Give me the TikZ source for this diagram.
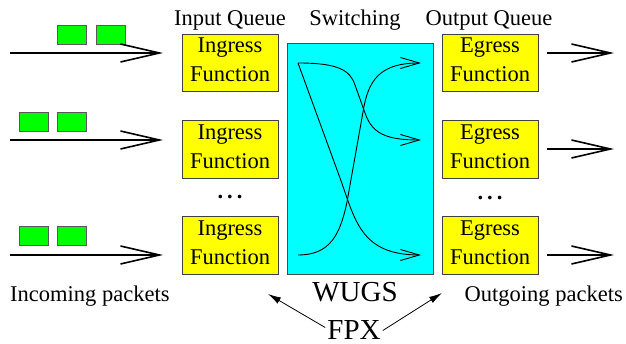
\documentclass[tikz,border=0pt]{standalone}
\usepackage{fontspec}
\setmainfont{Liberation Serif}
\usetikzlibrary{arrows.meta}
\definecolor{fabric}{RGB}{0,255,255}
\definecolor{fnfill}{RGB}{255,255,0}
\definecolor{pktfill}{RGB}{0,255,0}
\begin{document}
\begin{tikzpicture}[x=1pt,y=-1pt,
  fnbox/.style={draw=black!75, line width=0.8pt, fill=fnfill,
    minimum width=96pt, minimum height=57.5pt, inner sep=0pt,
    align=center, font=\rmfamily\fontsize{22.5}{29}\selectfont},
  packet/.style={draw=black!65, line width=0.7pt, fill=pktfill,
    minimum width=29pt, minimum height=19pt, inner sep=0pt},
  switchbox/.style={draw=black!70, line width=0.8pt, fill=fabric,
    minimum width=146pt, minimum height=231pt, inner sep=0pt},
  flow/.style={line width=1.6pt, -{Straight Barb[length=39pt,width=18pt]}},
  route/.style={line width=0.9pt, -{Straight Barb[length=19pt,width=11pt]}},
  pointer/.style={line width=0.8pt, -{Latex[length=13pt,width=7pt]}},
  lbl/.style={font=\rmfamily\fontsize{22.5}{27}\selectfont, anchor=base, inner sep=0pt},
  biglbl/.style={font=\rmfamily\fontsize{29}{34}\selectfont, anchor=base, inner sep=0pt},
]
\useasboundingbox (0,0) rectangle (626,344);

% column headings
\node[lbl] (iq)  at (230,26) {Input Queue};
\node[lbl] (swl) at (355,26) {Switching};
\node[lbl] (oq)  at (489,26) {Output Queue};

% switching fabric
\node[switchbox] (sw) at (360,158.5) {};

% ingress and egress functions
\node[fnbox] (ing1) at (230,63)    {Ingress\\Function\rule[-6pt]{0pt}{6pt}};
\node[fnbox] (ing2) at (230,149.5) {Ingress\\Function\rule[-6pt]{0pt}{6pt}};
\node[fnbox] (ing3) at (230,245.5) {Ingress\\Function\rule[-6pt]{0pt}{6pt}};
\node[fnbox] (eg1)  at (490,63)    {Egress\\Function\rule[-6pt]{0pt}{6pt}};
\node[fnbox] (eg2)  at (490,149.5) {Egress\\Function\rule[-6pt]{0pt}{6pt}};
\node[fnbox] (eg3)  at (490,245.5) {Egress\\Function\rule[-6pt]{0pt}{6pt}};

\node[lbl] (idots) at (230,199) {\textbf{.\kern4pt.\kern4pt.}};
\node[lbl] (edots) at (490,200) {\textbf{.\kern4pt.\kern4pt.}};

% packets waiting on the input links
\node[packet] (p11) at (72,34.5)  {};
\node[packet] (p12) at (110.5,34.5) {};
\node[packet] (p21) at (33.5,121.5) {};
\node[packet] (p22) at (72,121.5) {};
\node[packet] (p31) at (33.5,236) {};
\node[packet] (p32) at (71.5,236) {};

% input links
\coordinate (in1a) at (10,53);  \coordinate (in1b) at (163,53);
\coordinate (in2a) at (10,140); \coordinate (in2b) at (163,140);
\coordinate (in3a) at (10,255); \coordinate (in3b) at (163,255);
\draw[flow] (in1a) -- (in1b);
\draw[flow] (in2a) -- (in2b);
\draw[flow] (in3a) -- (in3b);

% output links
\coordinate (out1a) at (547,53);  \coordinate (out1b) at (614,53);
\coordinate (out2a) at (547,149); \coordinate (out2b) at (614,149);
\coordinate (out3a) at (547,255); \coordinate (out3b) at (614,255);
\draw[flow] (out1a) -- (out1b);
\draw[flow] (out2a) -- (out2b);
\draw[flow] (out3a) -- (out3b);

% routes through the fabric
\coordinate (s1) at (298,63);
\coordinate (s3) at (298,255);
\coordinate (t1) at (421,63);
\coordinate (t2) at (421,140);
\coordinate (t3) at (421,255);
\draw[route] (s1) .. controls (338,63) and (350,70) .. (355,85)
  -- (365,113) .. controls (372,133) and (385,140) .. (t2);
\draw[route] (s1) -- (340,178) .. controls (355,219) and (360,255) .. (t3);
\draw[route] (s3) .. controls (330,255) and (340,235) .. (347,202)
  -- (363,112) .. controls (368,80) and (380,63) .. (t1);

% bottom labels
\node[lbl, anchor=base west] (inc)  at (10,302)  {Incoming packets};
\node[lbl, anchor=base east] (outg) at (623,302) {Outgoing packets};
\node[biglbl] (wugs) at (355,302) {WUGS};
\node[biglbl] (fpx)  at (354,339) {FPX};

\coordinate (fpxin)  at (268,294);
\coordinate (fpxout) at (442,293);
\draw[pointer] ([shift={(-2pt,2pt)}]fpx.west) -- (fpxin);
\draw[pointer] ([shift={(2pt,-1pt)}]fpx.east) -- (fpxout);
\end{tikzpicture}
\end{document}
